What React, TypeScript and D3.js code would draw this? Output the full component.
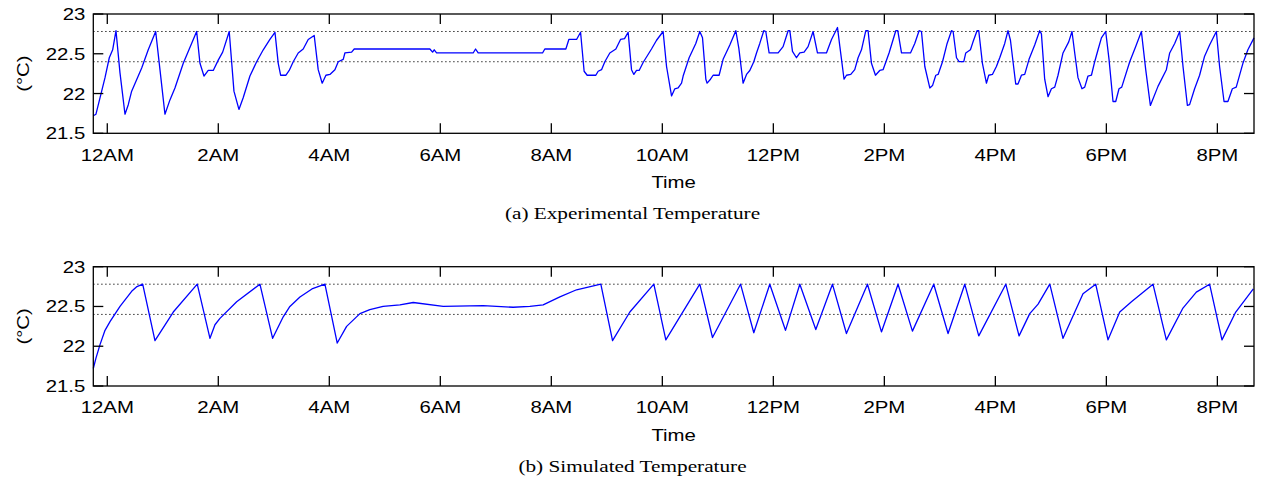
import React, { useEffect, useRef } from 'react'
import * as d3 from 'd3'

// time in hours after midnight, temperature in °C
const timeTicks = [0, 2, 4, 6, 8, 10, 12, 14, 16, 18, 20]
const timeLabels = ['12AM', '2AM', '4AM', '6AM', '8AM', '10AM', '12PM', '2PM', '4PM', '6PM', '8PM']
const tempTicks = [21.5, 22, 22.5, 23]
const comfortBand = [22.4, 22.78]

const expHour = [
  -0.252, -0.204, -0.101, -0.041, 0.036, 0.097, 0.157, 0.229, 0.319, 0.378, 0.439, 0.62, 0.738, 0.872,
  0.949, 1.039, 1.129, 1.219, 1.369, 1.61, 1.67, 1.742, 1.819, 1.909, 1.999, 2.079, 2.197, 2.282, 2.372,
  2.45, 2.57, 2.691, 2.81, 2.93, 3.021, 3.08, 3.123, 3.219, 3.278, 3.35, 3.44, 3.53, 3.62, 3.728, 3.8,
  3.872, 3.939, 4.011, 4.101, 4.161, 4.251, 4.281, 4.402, 4.449, 5.812, 5.861, 5.89, 5.933, 6.592, 6.635,
  6.682, 7.842, 7.883, 8.262, 8.316, 8.455, 8.527, 8.591, 8.646, 8.802, 8.844, 8.905, 8.964, 9.054, 9.163,
  9.247, 9.319, 9.384, 9.445, 9.487, 9.535, 9.582, 9.654, 9.805, 9.896, 10.014, 10.076, 10.166, 10.225,
  10.285, 10.346, 10.375, 10.483, 10.603, 10.675, 10.724, 10.784, 10.807, 10.868, 10.915, 11.023, 11.095,
  11.216, 11.324, 11.378, 11.455, 11.517, 11.576, 11.648, 11.697, 11.756, 11.828, 11.864, 11.924, 12.086,
  12.176, 12.266, 12.297, 12.345, 12.417, 12.477, 12.554, 12.626, 12.716, 12.795, 12.957, 13.048, 13.156,
  13.197, 13.274, 13.318, 13.395, 13.467, 13.527, 13.588, 13.666, 13.707, 13.768, 13.84, 13.917, 13.977,
  14.085, 14.206, 14.242, 14.309, 14.471, 14.548, 14.626, 14.669, 14.729, 14.819, 14.868, 14.927, 14.969,
  15.048, 15.131, 15.21, 15.239, 15.3, 15.346, 15.431, 15.467, 15.551, 15.598, 15.67, 15.701, 15.767,
  15.839, 15.881, 15.947, 16.019, 16.079, 16.169, 16.228, 16.272, 16.367, 16.408, 16.47, 16.529, 16.607,
  16.709, 16.799, 16.83, 16.889, 16.949, 17.01, 17.07, 17.129, 17.219, 17.322, 17.381, 17.43, 17.489,
  17.561, 17.61, 17.669, 17.731, 17.79, 17.85, 17.911, 17.988, 18.048, 18.12, 18.169, 18.228, 18.277,
  18.421, 18.529, 18.631, 18.709, 18.793, 18.93, 19.081, 19.141, 19.231, 19.321, 19.381, 19.46, 19.5,
  19.59, 19.68, 19.77, 19.86, 19.982, 20.04, 20.12, 20.19, 20.27, 20.34, 20.46, 20.55, 20.66,
]
const expTemp = [
  21.72, 21.74, 22.03, 22.2, 22.45, 22.55, 22.79, 22.26, 21.74, 21.86, 22.03, 22.32, 22.55, 22.78,
  22.3, 21.74, 21.92, 22.07, 22.38, 22.78, 22.38, 22.22, 22.29, 22.29, 22.42, 22.52, 22.78, 22.03, 21.8,
  21.95, 22.22, 22.4, 22.55, 22.68, 22.77, 22.38, 22.23, 22.23, 22.29, 22.4, 22.51, 22.56, 22.68, 22.73, 22.3,
  22.13, 22.23, 22.24, 22.3, 22.4, 22.43, 22.51, 22.52, 22.56, 22.56, 22.52, 22.55, 22.51, 22.51, 22.56,
  22.51, 22.51, 22.56, 22.56, 22.68, 22.68, 22.77, 22.28, 22.23, 22.23, 22.28, 22.3, 22.4, 22.51, 22.56,
  22.68, 22.69, 22.77, 22.3, 22.24, 22.29, 22.29, 22.39, 22.56, 22.67, 22.78, 22.34, 21.97, 22.06,
  22.07, 22.13, 22.22, 22.45, 22.63, 22.78, 22.7, 22.18, 22.13, 22.18, 22.23, 22.23, 22.43,
  22.61, 22.79, 22.57, 22.13, 22.24, 22.29, 22.4, 22.51, 22.63, 22.79, 22.78, 22.51, 22.51,
  22.59, 22.79, 22.79, 22.53, 22.45, 22.51, 22.52, 22.59, 22.78, 22.51, 22.51, 22.68, 22.83,
  22.6, 22.18, 22.23, 22.24, 22.3, 22.45, 22.55, 22.79, 22.79, 22.38, 22.23, 22.29, 22.3,
  22.51, 22.79, 22.79, 22.51, 22.51, 22.63, 22.79, 22.78, 22.34, 22.07, 22.1, 22.23, 22.24,
  22.4, 22.63, 22.79, 22.78, 22.45, 22.4, 22.4, 22.51, 22.55, 22.65, 22.79, 22.79, 22.38,
  22.13, 22.23, 22.24, 22.34, 22.45, 22.63, 22.79, 22.67, 22.12, 22.12, 22.23, 22.24, 22.43,
  22.61, 22.79, 22.75, 22.18, 21.96, 22.06, 22.08, 22.23, 22.51, 22.65, 22.78, 22.51, 22.2,
  22.06, 22.08, 22.22, 22.23, 22.4, 22.55, 22.7, 22.78, 22.43, 21.9, 21.9, 22.06, 22.08,
  22.4, 22.59, 22.78, 22.3, 21.85, 22.09, 22.3, 22.51, 22.63, 22.78, 22.34, 21.85, 21.86,
  22.06, 22.23, 22.47, 22.61, 22.78, 22.34, 21.9, 21.9, 22.06, 22.08, 22.38, 22.55, 22.7,
]

const simHour = [
  -0.252, -0.204, -0.131, -0.041, 0.049, 0.229, 0.439, 0.535, 0.638, 0.859, 1.189, 1.621, 1.85, 1.94,
  2.03, 2.331, 2.75, 2.979, 3.17, 3.29, 3.471, 3.687, 3.921, 4.143, 4.312, 4.552, 4.73, 4.97, 5.272,
  5.512, 6.052, 6.772, 7.313, 7.613, 7.853, 8.154, 8.455, 8.892, 9.103, 9.415, 9.847, 10.063, 10.675,
  10.904, 11.409, 11.648, 11.936, 12.219, 12.477, 12.765, 13.065, 13.317, 13.696, 13.948, 14.247,
  14.506, 14.89, 15.148, 15.449, 15.701, 16.188, 16.427, 16.62, 16.77, 16.981, 17.219, 17.579, 17.808,
  18.03, 18.241, 18.452, 18.84, 19.081, 19.38, 19.621, 19.86, 20.083, 20.331, 20.648,
]
const simTemp = [
  21.72, 21.85, 22.02, 22.2, 22.31, 22.5, 22.69, 22.75, 22.78, 22.07, 22.43, 22.78, 22.1, 22.27,
  22.35, 22.56, 22.78, 22.1, 22.37, 22.5, 22.62, 22.72, 22.78, 22.04, 22.25, 22.41, 22.46, 22.5, 22.52,
  22.55, 22.5, 22.51, 22.49, 22.5, 22.52, 22.62, 22.71, 22.78, 22.07, 22.43, 22.78, 22.08, 22.78,
  22.11, 22.78, 22.17, 22.78, 22.2, 22.78, 22.21, 22.78, 22.16, 22.78, 22.18, 22.78,
  22.19, 22.78, 22.16, 22.78, 22.13, 22.78, 22.13, 22.41, 22.53, 22.78, 22.1, 22.66, 22.78,
  22.08, 22.43, 22.56, 22.78, 22.08, 22.48, 22.68, 22.78, 22.08, 22.43, 22.72,
]

const panels = [
  { caption: '(a) Experimental Temperature', hours: expHour, temps: expTemp },
  { caption: '(b) Simulated Temperature', hours: simHour, temps: simTemp },
]

const W = 1265
const H = 481
const left = 93.3
const right = 1254
const panelTops = [14, 266.7]
const plotH = 119.3
const stretch = 1.25

export default function App() {
  const ref = useRef<SVGSVGElement>(null)

  useEffect(() => {
    const svg = d3.select(ref.current)
    svg.selectAll('*').remove()

    const x = d3.scaleLinear().domain([-0.252, 20.66]).range([left, right])

    panels.forEach((p, i) => {
      const top = panelTops[i]
      const y = d3.scaleLinear().domain([21.5, 23]).range([top + plotH, top])
      const g = svg.append('g')

      /* dotted band lines */
      g.selectAll('.band')
        .data(comfortBand)
        .enter()
        .append('line')
        .attr('x1', left)
        .attr('x2', right)
        .attr('y1', (d) => y(d))
        .attr('y2', (d) => y(d))
        .attr('stroke', '#000')
        .attr('stroke-width', 1)
        .attr('stroke-dasharray', '1.2,2.8')

      /* temperature line */
      const pts = p.hours.map((h, k) => [h, p.temps[k]] as [number, number])
      const line = d3
        .line<[number, number]>()
        .x((d) => x(d[0]))
        .y((d) => y(d[1]))
      g.append('path')
        .datum(pts)
        .attr('d', line)
        .attr('fill', 'none')
        .attr('stroke', '#0000ff')
        .attr('stroke-width', 1.3)
        .attr('stroke-linejoin', 'round')

      /* box */
      g.append('rect')
        .attr('x', left)
        .attr('y', top)
        .attr('width', right - left)
        .attr('height', plotH)
        .attr('fill', 'none')
        .attr('stroke', '#000')
        .attr('stroke-width', 1.3)

      /* inward ticks, all four sides */
      const tl = 10
      timeTicks.forEach((t) => {
        g.append('line').attr('x1', x(t)).attr('x2', x(t)).attr('y1', top).attr('y2', top + tl)
          .attr('stroke', '#000').attr('stroke-width', 1.3)
        g.append('line').attr('x1', x(t)).attr('x2', x(t)).attr('y1', top + plotH).attr('y2', top + plotH - tl)
          .attr('stroke', '#000').attr('stroke-width', 1.3)
      })
      tempTicks.forEach((v) => {
        g.append('line').attr('x1', left).attr('x2', left + tl).attr('y1', y(v)).attr('y2', y(v))
          .attr('stroke', '#000').attr('stroke-width', 1.3)
        g.append('line').attr('x1', right).attr('x2', right - tl).attr('y1', y(v)).attr('y2', y(v))
          .attr('stroke', '#000').attr('stroke-width', 1.3)
      })

      const font = 'Liberation Sans, Arial, sans-serif'

      /* tick labels */
      timeTicks.forEach((t, k) => {
        g.append('text')
          .attr('transform', `translate(${x(t)},${top + plotH + 27.4}) scale(${stretch},1)`)
          .attr('text-anchor', 'middle')
          .attr('font-family', font)
          .attr('font-size', 16.3)
          .attr('fill', '#000')
          .text(timeLabels[k])
      })
      tempTicks.forEach((v) => {
        g.append('text')
          .attr('transform', `translate(${left - 8},${y(v) + 6}) scale(${stretch},1)`)
          .attr('text-anchor', 'end')
          .attr('font-family', font)
          .attr('font-size', 16.3)
          .attr('fill', '#000')
          .text(String(v))
      })

      /* axis titles */
      g.append('text')
        .attr('transform', `translate(${(left + right) / 2},${top + plotH + 55}) scale(${stretch},1)`)
        .attr('text-anchor', 'middle')
        .attr('font-family', font)
        .attr('font-size', 16.3)
        .attr('fill', '#000')
        .text('Time')
      g.append('text')
        .attr('transform', `translate(${29},${top + plotH / 2}) rotate(-90) scale(${stretch},1)`)
        .attr('text-anchor', 'middle')
        .attr('font-family', font)
        .attr('font-size', 16.3)
        .attr('fill', '#000')
        .text('(°C)')

      /* caption */
      g.append('text')
        .attr('transform', `translate(${W / 2},${top + plotH + 86}) scale(${stretch},1)`)
        .attr('text-anchor', 'middle')
        .attr('font-family', 'Liberation Serif, Times New Roman, serif')
        .attr('font-size', 17)
        .attr('fill', '#000')
        .text(p.caption)
    })
  }, [])

  return (
    <svg
      ref={ref}
      width={W}
      height={H}
      style={{ position: 'absolute', left: 0, top: 0, background: '#fff' }}
    />
  )
}
